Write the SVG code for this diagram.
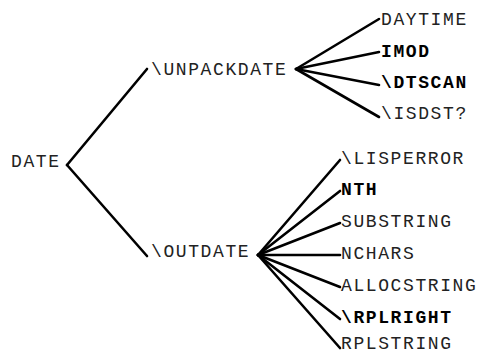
<svg xmlns="http://www.w3.org/2000/svg" width="483" height="355" viewBox="0 0 483 355">
<style>
text{font-family:"Liberation Mono","Courier New",monospace;font-size:18px;letter-spacing:1.6px;fill:#222}
.b{font-weight:bold;fill:#000}
.c line{stroke:#000;stroke-width:2.6;stroke-linecap:round}
</style>
<rect width="483" height="355" fill="#fff"/>
<g class="c" id="connectors">
<line x1="67" y1="165" x2="147" y2="69"/>
<line x1="67" y1="165" x2="147" y2="256"/>
<line x1="296" y1="69" x2="379" y2="19"/>
<line x1="296" y1="69" x2="379" y2="52"/>
<line x1="296" y1="69" x2="379" y2="85"/>
<line x1="296" y1="69" x2="379" y2="117"/>
<line x1="258" y1="255" x2="340" y2="160"/>
<line x1="258" y1="255" x2="340" y2="191"/>
<line x1="258" y1="255" x2="340" y2="223"/>
<line x1="258" y1="255" x2="340" y2="255"/>
<line x1="258" y1="255" x2="340" y2="287"/>
<line x1="258" y1="255" x2="340" y2="319"/>
<line x1="258" y1="255" x2="340" y2="348"/>
</g>
<g id="date"><text x="11" y="166.5">DATE</text></g>
<g id="unpackdate"><text x="151" y="75">\UNPACKDATE</text></g>
<g id="outdate"><text x="151" y="257">\OUTDATE</text></g>
<g id="daytime"><text x="381" y="25">DAYTIME</text></g>
<g id="imod"><text class="b" x="381" y="57">IMOD</text></g>
<g id="dtscan"><text class="b" x="381" y="88">\DTSCAN</text></g>
<g id="isdst"><text x="381" y="119">\ISDST?</text></g>
<g id="lisperror"><text x="341" y="164">\LISPERROR</text></g>
<g id="nth"><text class="b" x="341" y="195">NTH</text></g>
<g id="substring"><text x="341" y="227">SUBSTRING</text></g>
<g id="nchars"><text x="341" y="259">NCHARS</text></g>
<g id="allocstring"><text x="341" y="291">ALLOCSTRING</text></g>
<g id="rplright"><text class="b" x="341" y="323">\RPLRIGHT</text></g>
<g id="rplstring"><text x="341" y="349">RPLSTRING</text></g>
</svg>
